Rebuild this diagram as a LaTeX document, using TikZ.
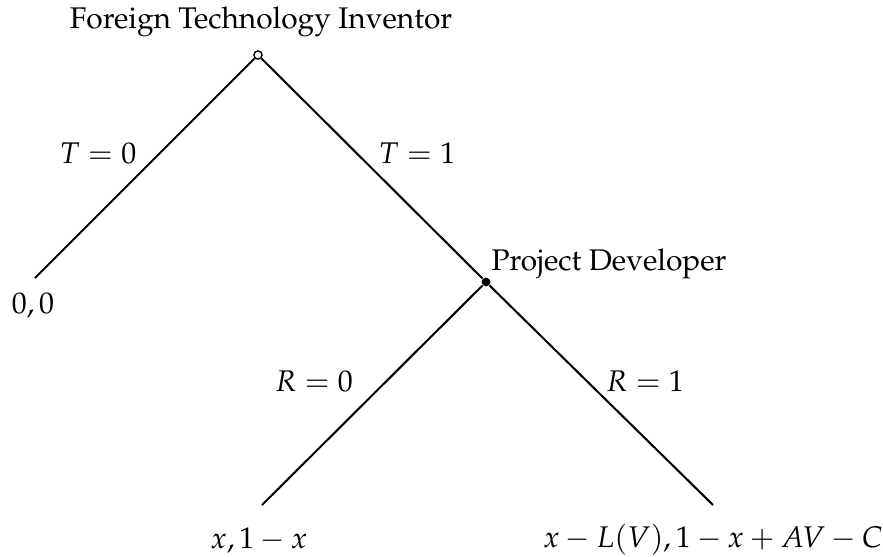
\documentclass[tikz,border=0pt]{standalone}
\usepackage[T1]{fontenc}
\usepackage{amsmath}
\usepackage{mathpazo}
\usetikzlibrary{positioning}

\begin{document}
\begin{tikzpicture}[x=0.365pt,y=-0.365pt,
  every node/.style={font=\fontsize{10.9}{13}\selectfont},
  branch/.style={line width=0.75pt}]
  \useasboundingbox (0,0) rectangle (883,557);

  % Decision nodes
  \node[draw, circle, fill=white, inner sep=0pt, minimum size=3pt, line width=0.5pt] (inventor) at (258,55) {};
  \node[circle, fill=black, inner sep=0pt, minimum size=3.2pt] (developer) at (486,282) {};
  \node (inventorlab) at (261,22) {Foreign Technology Inventor};
  \node (developerlab) at (609,264) {Project Developer};

  % Terminal points
  \coordinate (out) at (35,278);
  \coordinate (nopatent) at (262,505);
  \coordinate (patent) at (713,505);

  % Branches
  \draw[branch] (inventor) -- (out);
  \draw[branch] (inventor) -- (developer);
  \draw[branch] (developer) -- (nopatent);
  \draw[branch] (developer) -- (patent);

  % Branch labels
  \node (tzero) at (98,153) {$T=0$};
  \node (tone) at (417,153) {$T=1$};
  \node (rzero) at (314,381) {$R=0$};
  \node (rone) at (645,381) {$R=1$};

  % Payoffs
  \node (payout) at (33,306) {$0,0$};
  \node (paynopatent) at (259,540) {$x,1-x$};
  \node (paypatent) at (713,540) {$x-L(V),1-x+AV-C$};

\end{tikzpicture}
\end{document}
